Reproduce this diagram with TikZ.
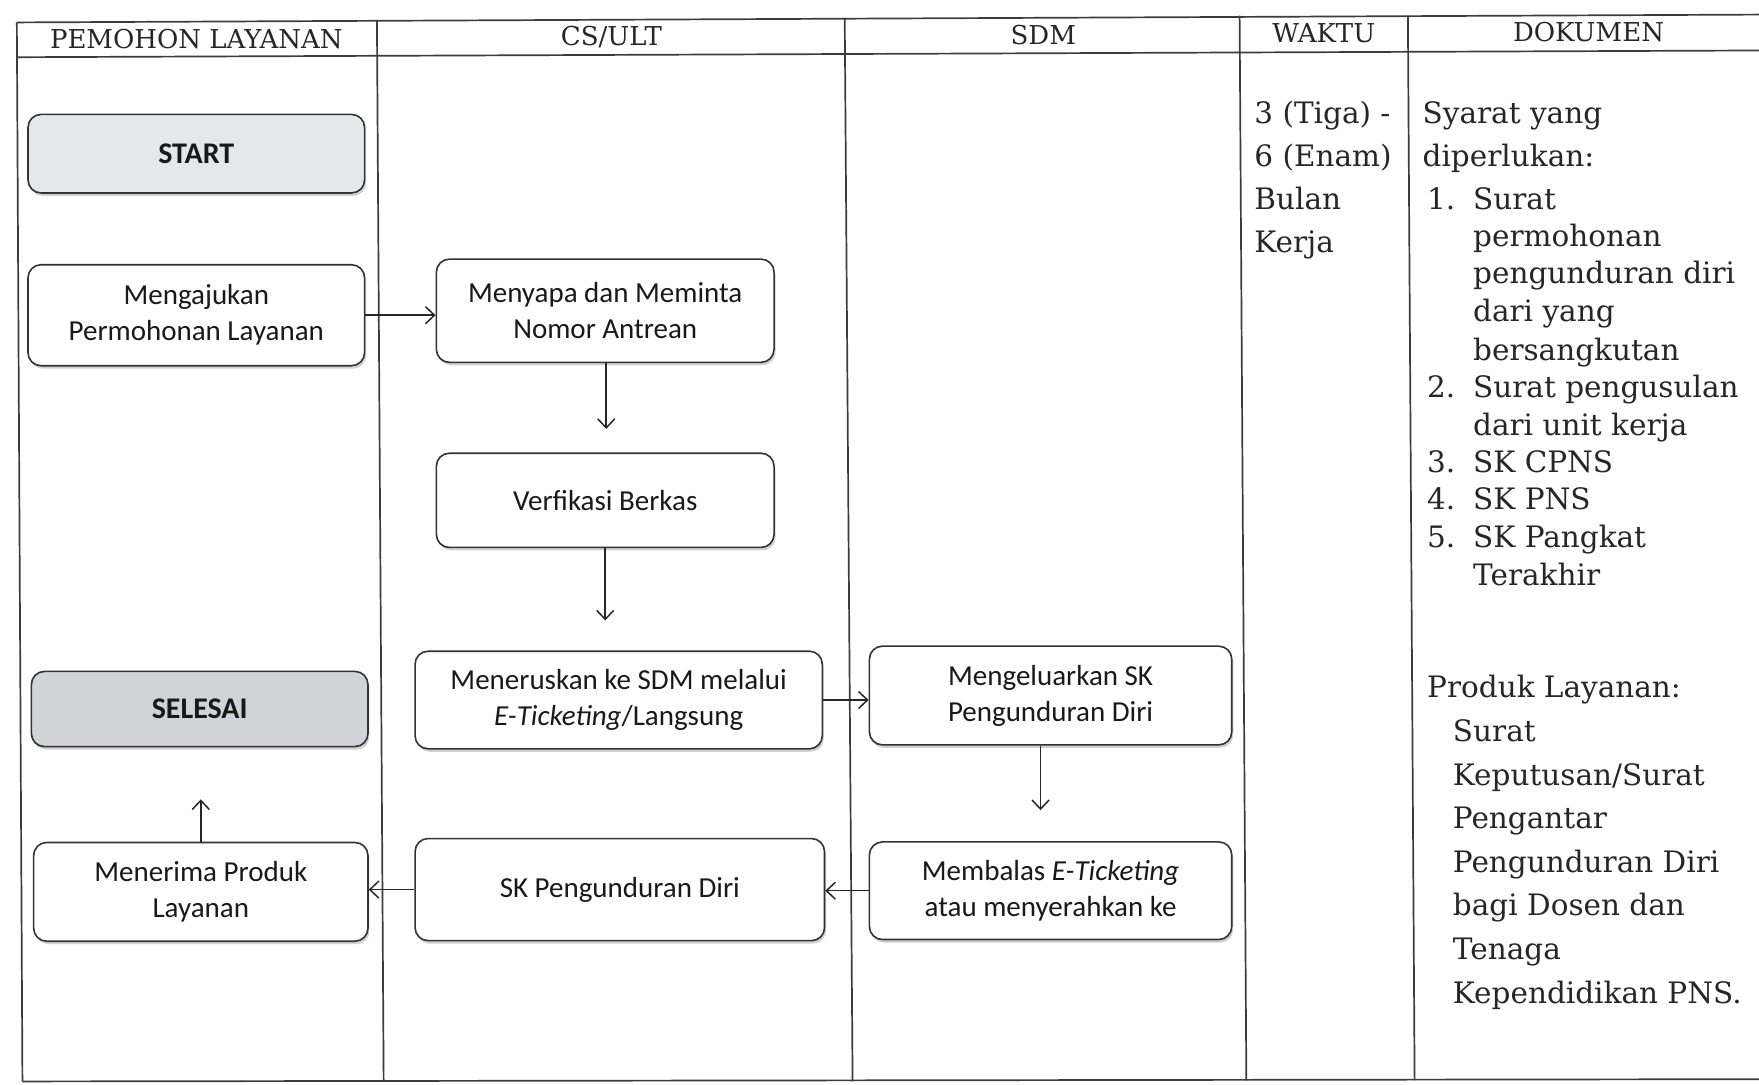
\documentclass[tikz,border=0pt]{standalone}
\usepackage{fontspec}
\setmainfont{DejaVu Serif}
\newfontfamily\boxfont{Carlito}
\usetikzlibrary{arrows.meta,shadows,calc}

\definecolor{rule}{HTML}{3C3C3C}
\definecolor{startfill}{HTML}{E6E7EC}
\definecolor{endfill}{HTML}{D2D3D8}

\tikzset{
  x=1.1218pt, y=-1.1218pt,
  size/.style 2 args={minimum width={#1*1.1218pt}, minimum height={#2*1.1218pt}},
  tableline/.style={draw=rule, line width=1.7pt},
  headtext/.style={font=\fontsize{26}{30}\selectfont, text=black!85, inner sep=0pt},
  doctext/.style={font=\fontsize{29.5}{36}\selectfont, text=black!85, inner sep=0pt, anchor=base west},
  box/.style={draw=black!80, line width=1.6pt, rounded corners=13pt, fill=white,
    inner sep=0pt, align=center, text=black!90,
    font=\boxfont\fontsize{29}{36}\selectfont,
    drop shadow={shadow xshift=1.5pt, shadow yshift=-3pt, opacity=0.18, fill=black}},
  termbox/.style={box, font=\boxfont\bfseries\fontsize{30}{36}\selectfont},
  arr/.style={draw=black!85, line width=1.5pt, -{Straight Barb[length=9pt,width=17pt,line width=1.5pt]}},
}

\begin{document}
\begin{tikzpicture}
\useasboundingbox[fill=white] (0,0) rectangle (1568,967);

% table frame
\coordinate (tl) at (15,20);   \coordinate (tr) at (1568,13);
\coordinate (hl) at (15,51);   \coordinate (hr) at (1568,45);
\coordinate (bl) at (20,964);  \coordinate (br) at (1568,962);
\draw[tableline] (tl) -- (tr);
\draw[tableline] (hl) -- (hr);
\draw[tableline] (bl) -- (br);
\draw[tableline] (tl) -- (bl);
\coordinate (d1t) at (336,18);  \coordinate (d1b) at (342,964);
\coordinate (d2t) at (753,16);  \coordinate (d2b) at (760,964);
\coordinate (d3t) at (1105,14); \coordinate (d3b) at (1111,963);
\coordinate (d4t) at (1255,14); \coordinate (d4b) at (1261,963);
\draw[tableline] (d1t) -- (d1b);
\draw[tableline] (d2t) -- (d2b);
\draw[tableline] (d3t) -- (d3b);
\draw[tableline] (d4t) -- (d4b);

% column headings
\node[headtext] (h1) at (175,35) {PEMOHON LAYANAN};
\node[headtext] (h2) at (545,33) {CS/ULT};
\node[headtext] (h3) at (930,31) {SDM};
\node[headtext] (h4) at (1180,30) {WAKTU};
\node[headtext] (h5) at (1416,29) {DOKUMEN};

% process boxes
\node[termbox, fill=startfill, size={300}{70}] (start) at (175,137) {START};
\node[box, size={300}{90}] (ajukan) at (175,281) {Mengajukan\\Permohonan Layanan};
\node[box, size={301}{92}] (sapa) at (539.5,277) {Menyapa dan Meminta\\Nomor Antrean};
\node[box, size={301}{84}] (verif) at (539.5,446) {Verfikasi Berkas};
\node[box, size={363}{87}] (terus) at (551.5,624) {Meneruskan ke SDM melalui\\\textit{E-Ticketing}/Langsung};
\node[termbox, fill=endfill, size={300}{67}] (selesai) at (178,632) {SELESAI};
\node[box, size={323}{88}] (keluar) at (936.5,620) {Mengeluarkan SK\\Pengunduran Diri};
\node[box, size={323}{87}] (balas) at (936.5,794) {Membalas \textit{E-Ticketing}\\atau menyerahkan ke};
\node[box, size={365}{91}] (skpd) at (552.5,793) {SK Pengunduran Diri};
\node[box, size={298}{88}] (terima) at (179,795) {Menerima Produk\\Layanan};

% connectors
\draw[arr] (ajukan.east) -- (ajukan.east -| sapa.west);
\draw[arr, shorten >=23.5pt] ([xshift=1pt]sapa.south) -- ([xshift=1pt]sapa.south |- verif.north);
\draw[arr, shorten >=30pt] (verif.south) -- (verif.south |- terus.north);
\draw[arr] (terus.east) -- (terus.east -| keluar.west);
\draw[arr, shorten >=31pt] ([xshift=-10pt]keluar.south) -- ([xshift=-10pt]keluar.south |- balas.north);
\draw[arr] (balas.west) -- (balas.west -| skpd.east);
\draw[arr] (skpd.west) -- (skpd.west -| terima.east);
\draw[arr, shorten >=52pt] (terima.north) -- (terima.north |- selesai.south);

% time column
\foreach \t [count=\i] in {{3 (Tiga) -}, {6 (Enam)}, Bulan, Kerja}
  \node[doctext] (w\i) at (1118, 110 + 38.5*\i - 38.5) {\t};

% requirements
\node[doctext] (s1) at (1268,110) {Syarat yang};
\node[doctext] (s2) at (1268,148.5) {diperlukan:};
\foreach \n/\yy in {1/187, 2/354, 3/421, 4/454, 5/488}
  \node[doctext] (n\n) at (1272,\yy) {\n.};
\foreach \t/\yy [count=\i] in {Surat/187, permohonan/220, pengunduran diri/253, dari yang/287,
    bersangkutan/321, Surat pengusulan/354, dari unit kerja/388, SK CPNS/421,
    SK PNS/454, SK Pangkat/488, Terakhir/522}
  \node[doctext] (r\i) at (1313,\yy) {\t};

% service product
\node[doctext] (p0) at (1272,622) {Produk Layanan:};
\foreach \t [count=\i] in {Surat, Keputusan/Surat, Pengantar, Pengunduran Diri,
    bagi Dosen dan, Tenaga, Kependidikan PNS.}
  \node[doctext] (p\i) at (1295, 622 + 38.9*\i) {\t};
\end{tikzpicture}
\end{document}
